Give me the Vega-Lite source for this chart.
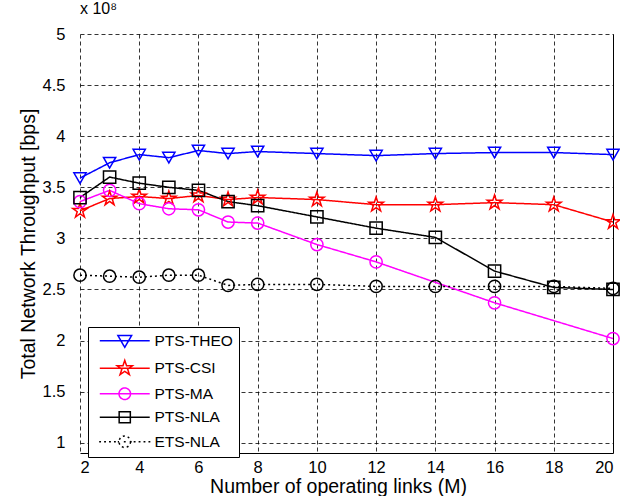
{
  "$schema": "https://vega.github.io/schema/vega-lite/v6.json",
  "autosize": "none",
  "width": 533,
  "height": 419,
  "padding": {"left": 80, "top": 34, "right": 7, "bottom": 43},
  "background": "white",
  "config": {
    "font": "Liberation Sans",
    "view": {"stroke": null},
    "axis": {
      "labelFont": "Liberation Sans",
      "titleFont": "Liberation Sans",
      "labelFontSize": 16.5,
      "titleFontSize": 19.5,
      "titleFontWeight": "normal",
      "labelColor": "black",
      "titleColor": "black",
      "domainColor": "black",
      "domainWidth": 1,
      "grid": true,
      "gridColor": "black",
      "gridDash": [4, 3],
      "gridWidth": 0.8,
      "ticks": false
    },
    "legend": {
      "labelFont": "Liberation Sans",
      "labelFontSize": 15.5,
      "labelColor": "black",
      "strokeColor": "black",
      "fillColor": "white",
      "padding": 6,
      "rowPadding": 5.5,
      "symbolStrokeWidth": 1.5,
      "symbolSize": 120,
      "symbolOffset": 23,
      "labelOffset": 22
    }
  },
  "title": {
    "text": "x 10⁸",
    "anchor": "start",
    "frame": "group",
    "dx": 0,
    "offset": 9,
    "fontSize": 16,
    "fontWeight": "normal",
    "font": "Liberation Sans",
    "color": "black"
  },
  "data": {
    "values": [
      {"M": 2, "series": "PTS-THEO", "T": 3.59},
      {"M": 3, "series": "PTS-THEO", "T": 3.74},
      {"M": 4, "series": "PTS-THEO", "T": 3.82},
      {"M": 5, "series": "PTS-THEO", "T": 3.79},
      {"M": 6, "series": "PTS-THEO", "T": 3.86},
      {"M": 7, "series": "PTS-THEO", "T": 3.83},
      {"M": 8, "series": "PTS-THEO", "T": 3.85},
      {"M": 10, "series": "PTS-THEO", "T": 3.83},
      {"M": 12, "series": "PTS-THEO", "T": 3.81},
      {"M": 14, "series": "PTS-THEO", "T": 3.83},
      {"M": 16, "series": "PTS-THEO", "T": 3.84},
      {"M": 18, "series": "PTS-THEO", "T": 3.84},
      {"M": 20, "series": "PTS-THEO", "T": 3.82},
      {"M": 2, "series": "PTS-CSI", "T": 3.27},
      {"M": 3, "series": "PTS-CSI", "T": 3.39},
      {"M": 4, "series": "PTS-CSI", "T": 3.41},
      {"M": 5, "series": "PTS-CSI", "T": 3.39},
      {"M": 6, "series": "PTS-CSI", "T": 3.42},
      {"M": 7, "series": "PTS-CSI", "T": 3.38},
      {"M": 8, "series": "PTS-CSI", "T": 3.40},
      {"M": 10, "series": "PTS-CSI", "T": 3.38},
      {"M": 12, "series": "PTS-CSI", "T": 3.33},
      {"M": 14, "series": "PTS-CSI", "T": 3.33},
      {"M": 16, "series": "PTS-CSI", "T": 3.35},
      {"M": 18, "series": "PTS-CSI", "T": 3.33},
      {"M": 20, "series": "PTS-CSI", "T": 3.16},
      {"M": 2, "series": "PTS-MA", "T": 3.36},
      {"M": 3, "series": "PTS-MA", "T": 3.47},
      {"M": 4, "series": "PTS-MA", "T": 3.34},
      {"M": 5, "series": "PTS-MA", "T": 3.29},
      {"M": 6, "series": "PTS-MA", "T": 3.28},
      {"M": 7, "series": "PTS-MA", "T": 3.16},
      {"M": 8, "series": "PTS-MA", "T": 3.15},
      {"M": 10, "series": "PTS-MA", "T": 2.94},
      {"M": 12, "series": "PTS-MA", "T": 2.77},
      {"M": 16, "series": "PTS-MA", "T": 2.37},
      {"M": 20, "series": "PTS-MA", "T": 2.02},
      {"M": 2, "series": "PTS-NLA", "T": 3.40},
      {"M": 3, "series": "PTS-NLA", "T": 3.60},
      {"M": 4, "series": "PTS-NLA", "T": 3.54},
      {"M": 5, "series": "PTS-NLA", "T": 3.50},
      {"M": 6, "series": "PTS-NLA", "T": 3.47},
      {"M": 7, "series": "PTS-NLA", "T": 3.36},
      {"M": 8, "series": "PTS-NLA", "T": 3.32},
      {"M": 10, "series": "PTS-NLA", "T": 3.21},
      {"M": 12, "series": "PTS-NLA", "T": 3.10},
      {"M": 14, "series": "PTS-NLA", "T": 3.01},
      {"M": 16, "series": "PTS-NLA", "T": 2.68},
      {"M": 18, "series": "PTS-NLA", "T": 2.52},
      {"M": 20, "series": "PTS-NLA", "T": 2.50},
      {"M": 2, "series": "ETS-NLA", "T": 2.64},
      {"M": 3, "series": "ETS-NLA", "T": 2.63},
      {"M": 4, "series": "ETS-NLA", "T": 2.62},
      {"M": 5, "series": "ETS-NLA", "T": 2.64},
      {"M": 6, "series": "ETS-NLA", "T": 2.64},
      {"M": 7, "series": "ETS-NLA", "T": 2.54},
      {"M": 8, "series": "ETS-NLA", "T": 2.55},
      {"M": 10, "series": "ETS-NLA", "T": 2.55},
      {"M": 12, "series": "ETS-NLA", "T": 2.53},
      {"M": 14, "series": "ETS-NLA", "T": 2.53},
      {"M": 16, "series": "ETS-NLA", "T": 2.53},
      {"M": 18, "series": "ETS-NLA", "T": 2.53},
      {"M": 20, "series": "ETS-NLA", "T": 2.51}
    ]
  },
  "encoding": {
    "x": {
      "field": "M", "type": "quantitative",
      "scale": {"domain": [2, 20], "nice": false, "zero": false},
      "axis": {
        "values": [2, 4, 6, 8, 10, 12, 14, 16, 18, 20],
        "title": "Number of operating links (M)",
        "labelPadding": 6,
        "titleX": 258, "titleY": 39, "titleBaseline": "alphabetic", "titleAnchor": "middle"
      }
    },
    "color": {
      "field": "series", "type": "nominal",
      "scale": {
        "domain": ["PTS-THEO", "PTS-CSI", "PTS-MA", "PTS-NLA", "ETS-NLA"],
        "range": ["#0000ff", "#ff0000", "#ff00ff", "#000000", "#000000"]
      },
      "legend": {"title": null, "orient": "none", "legendX": 8, "legendY": 293}
    }
  },
  "layer": [
    {
      "mark": {"type": "line", "strokeWidth": 1.5},
      "encoding": {
        "y": {
          "field": "T", "type": "quantitative",
          "scale": {"domain": [0.9, 5], "nice": false, "zero": false},
          "axis": {
            "values": [1, 1.5, 2, 2.5, 3, 3.5, 4, 4.5, 5],
            "format": "~g",
            "domain": false,
            "labelPadding": 15,
            "title": "Total Network Throughput [bps]",
            "titlePadding": 4
          }
        },
        "strokeDash": {
          "field": "series", "type": "nominal",
          "scale": {
            "domain": ["PTS-THEO", "PTS-CSI", "PTS-MA", "PTS-NLA", "ETS-NLA"],
            "range": [[1, 0], [1, 0], [1, 0], [1, 0], [2, 3]]
          },
          "legend": null
        }
      }
    },
    {
      "transform": [{"filter": "datum.series === 'PTS-THEO'"}],
      "mark": {"type": "point", "shape": "triangle-down", "filled": false, "strokeWidth": 1.5, "size": 150, "opacity": 1},
      "encoding": {
        "y": {
          "field": "T", "type": "quantitative",
          "scale": {"domain": [0.9, 5], "nice": false, "zero": false},
          "axis": {"orient": "right", "labels": false, "grid": false, "ticks": false, "title": null, "domain": true}
        }
      }
    },
    {
      "transform": [{"filter": "datum.series === 'PTS-CSI'"}],
      "mark": {"type": "point", "shape": "M0,-1.25L0.28,-0.386L1.19,-0.386L0.454,0.148L0.735,1.01L0,0.478L-0.735,1.01L-0.454,0.148L-1.19,-0.386L-0.28,-0.386Z", "filled": false, "strokeWidth": 1.5, "size": 150, "opacity": 1},
      "encoding": {
        "y": {"field": "T", "type": "quantitative", "scale": {"domain": [0.9, 5], "nice": false, "zero": false}, "axis": null}
      }
    },
    {
      "transform": [{"filter": "datum.series === 'PTS-MA' || datum.series === 'ETS-NLA'"}],
      "mark": {"type": "point", "shape": "circle", "filled": false, "strokeWidth": 1.5, "size": 150, "opacity": 1},
      "encoding": {
        "y": {"field": "T", "type": "quantitative", "scale": {"domain": [0.9, 5], "nice": false, "zero": false}, "axis": null}
      }
    },
    {
      "transform": [{"filter": "datum.series === 'PTS-NLA'"}],
      "mark": {"type": "point", "shape": "square", "filled": false, "strokeWidth": 1.5, "size": 150, "opacity": 1},
      "encoding": {
        "y": {"field": "T", "type": "quantitative", "scale": {"domain": [0.9, 5], "nice": false, "zero": false}, "axis": null}
      }
    },
    {
      "transform": [{"filter": "false"}],
      "mark": {"type": "point", "filled": false, "strokeWidth": 1.5, "opacity": 1},
      "encoding": {
        "y": {"field": "T", "type": "quantitative", "scale": {"domain": [0.9, 5], "nice": false, "zero": false}, "axis": null},
        "shape": {
          "field": "series", "type": "nominal",
          "scale": {
            "domain": ["PTS-THEO", "PTS-CSI", "PTS-MA", "PTS-NLA", "ETS-NLA"],
            "range": [
              "M-4.56,0L4.56,0M-1.25,-0.95L1.25,-0.95L0,1.2Z",
              "M-4.56,0L4.56,0M0,-1.45L0.33,-0.45L1.38,-0.45L0.53,0.17L0.86,1.17L0,0.56L-0.86,1.17L-0.53,0.17L-1.38,-0.45L-0.33,-0.45Z",
              "M-4.56,0L4.56,0M1.05,0A1.05,1.05,0,1,1,-1.05,0A1.05,1.05,0,1,1,1.05,0Z",
              "M-4.56,0L4.56,0M-1.02,-1.02L1.02,-1.02L1.02,1.02L-1.02,1.02Z",
              "M-4.67,0L-4.33,0M-3.77,0L-3.43,0M-2.87,0L-2.53,0M-1.97,0L-1.63,0M-1.27,0L-1.05,0M1.05,0L1.27,0M1.63,0L1.97,0M2.53,0L2.87,0M3.43,0L3.77,0M4.33,0L4.67,0M-0.17,0L0.17,0M1.05,0A1.05,1.05,0,1,1,-1.05,0A1.05,1.05,0,1,1,1.05,0Z"
            ]
          },
          "legend": {"title": null, "orient": "none", "legendX": 8, "legendY": 293}
        }
      }
    }
  ],
  "resolve": {"scale": {"y": "independent"}}
}
